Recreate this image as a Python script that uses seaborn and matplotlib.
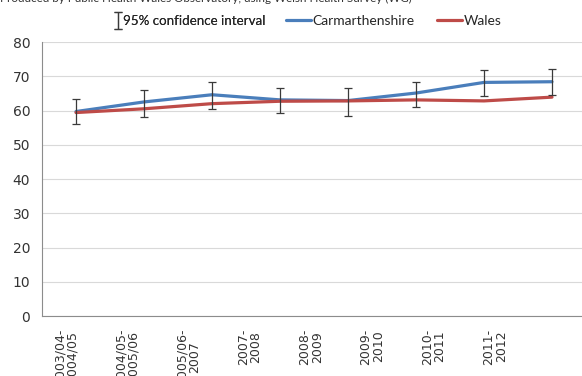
import matplotlib
matplotlib.use("Agg")
import matplotlib.pyplot as plt
from matplotlib.lines import Line2D
from matplotlib.legend_handler import HandlerErrorbar
import seaborn as sns
import pandas as pd
import numpy as np

# Welsh Health Survey periods
periods = ["2003/04-\n2004/05", "2004/05-\n2005/06", "2005/06-\n2007", "2007-\n2008",
           "2008-\n2009", "2009-\n2010", "2010-\n2011", "2011-\n2012"]

# Age-standardised percentages
carmarthenshire = [59.7, 62.5, 64.6, 63.1, 62.9, 65.1, 68.2, 68.4]
carm_lower = [56.1, 58.0, 60.3, 59.2, 58.5, 61.0, 64.1, 64.5]
carm_upper = [63.5, 66.0, 68.2, 66.5, 66.5, 68.3, 71.8, 72.0]
wales = [59.4, 60.5, 62.0, 62.7, 62.8, 63.1, 62.8, 63.9]

source_note = "Produced by Public Health Wales Observatory, using Welsh Health Survey (WG)"

BLUE = "#4a7ebb"
RED = "#be4b48"

sns.set_theme(style="white")
plt.rcParams["font.family"] = ["DejaVu Sans"]

pos = np.arange(len(periods))
df = pd.DataFrame({
    "pos": np.concatenate([pos, pos]),
    "value": carmarthenshire + wales,
    "series": ["Carmarthenshire"] * len(pos) + ["Wales"] * len(pos),
})

fig = plt.figure(figsize=(5.82, 3.76), dpi=100)
ax = fig.add_axes([42 / 582, 1 - 316 / 376, 544 / 582, 274 / 376])

sns.lineplot(data=df, x="pos", y="value", hue="series",
             palette={"Carmarthenshire": BLUE, "Wales": RED},
             linewidth=2.3, ax=ax, legend=False, zorder=3)

yerr = np.array([np.array(carmarthenshire) - np.array(carm_lower),
                 np.array(carm_upper) - np.array(carmarthenshire)])
eb = ax.errorbar(pos, carmarthenshire, yerr=yerr, fmt="none", ecolor="#3a3a3a",
                 elinewidth=0.9, capsize=3.0, capthick=0.9, zorder=4,
                 label="95% confidence interval")

ax.set_xlim(-0.5, len(periods) - 0.5)
ax.set_ylim(0, 80)
ax.set_yticks(np.arange(0, 81, 10))
ax.yaxis.grid(True, color="#d9d9d9", linewidth=0.8)
ax.xaxis.grid(False)
for s in ["top", "right"]:
    ax.spines[s].set_visible(False)
for s in ["left", "bottom"]:
    ax.spines[s].set_color("#8c8c8c")
    ax.spines[s].set_linewidth(0.8)

ax.set_xticks(pos * 0.901 - 0.147)
ax.set_xticklabels(periods, rotation=90, fontsize=9, color="#333333",
                   linespacing=0.95, va="top", ha="center")
ax.tick_params(axis="x", length=0, pad=9)
ax.tick_params(axis="y", length=0, pad=8.5, labelsize=10, labelcolor="#333333")
ax.set_xlabel("")
ax.set_ylabel("")

fig.text(0.0, 1 - 2 / 376, source_note, fontsize=8.4, family="Lato",
         color="#333333", va="baseline", ha="left")

leg1 = fig.legend(handles=[eb], labels=["95% confidence interval"],
                  loc="center left", bbox_to_anchor=(102 / 582, 1 - 21 / 376),
                  frameon=False, handlelength=0.6, handletextpad=0.1,
                  handler_map={type(eb): HandlerErrorbar(yerr_size=0.66)},
                  prop={"family": "Lato", "size": 9.6})
fig.add_artist(leg1)
line_handles = [Line2D([], [], color=BLUE, linewidth=2.3),
                Line2D([], [], color=RED, linewidth=2.3)]
fig.legend(handles=line_handles, labels=["Carmarthenshire", "Wales"],
           loc="center left", bbox_to_anchor=(273 / 582, 1 - 21 / 376),
           frameon=False, ncol=2, handlelength=1.8, handletextpad=0.15,
           columnspacing=1.6, prop={"family": "Lato", "size": 10})

fig.savefig("out.png", dpi=100)
